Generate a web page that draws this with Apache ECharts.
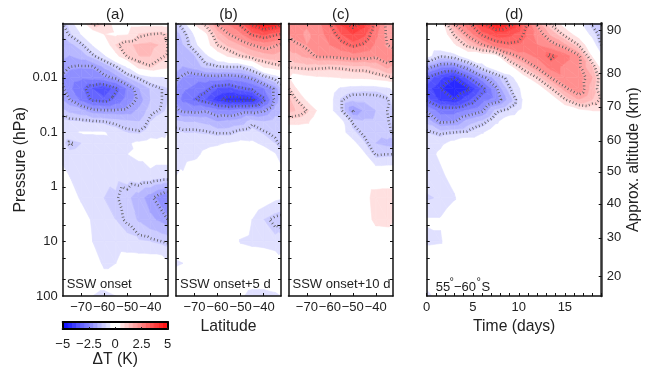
<!DOCTYPE html>
<html>
<head>
<meta charset="utf-8">
<style>
  html, body { margin: 0; padding: 0; background: #fff; }
  #chart { width: 651px; height: 369px; }
</style>
<script src="https://cdn.jsdelivr.net/npm/echarts@6/dist/echarts.min.js"></script>
</head>
<body>
<div id="chart"></div>
<script>
// grid of the fields: log10(pressure in hPa) rows, latitude / day columns
const logPressures = [-3, -2.8, -2.6, -2.4, -2.2, -2, -1.8, -1.6, -1.4, -1.2, -1, -0.8, -0.6, -0.2, 0.2, 0.6, 1, 1.4, 1.7, 2]
const latitudes = [-78, -75, -70, -65, -60, -55, -50, -45, -40, -35, -32.5]
const days = [0, 1.5, 3, 4.5, 6, 7.5, 9, 10.5, 12, 13.5, 15, 16.5, 18, 19]

// temperature anomaly in K, one row per pressure
const onsetA = [
  [-1.0, -0.8, 0.2, 1.1, 0.9, 0.2, 0.3, 0.3, 0.3, 0.3, 0.3],
  [-1.2, -0.95, -0.45, 0.1, 0.5, 0.4, 0.45, 0.9, 1.0, 1.05, 0.9],
  [-1.5, -1.4, -1.1, -0.45, 0.1, 0.9, 1.25, 1.35, 1.4, 1.25, 1.0],
  [-1.6, -1.7, -1.5, -1.1, -0.55, 0.3, 1.05, 1.3, 1.3, 1.05, 0.95],
  [-1.8, -2.0, -2.05, -2.05, -1.6, -1.05, -0.4, 0.7, 0.95, 0.7, 0.6],
  [-2.1, -2.3, -2.4, -2.3, -2.15, -1.9, -1.3, -0.95, -0.6, -0.55, -0.45],
  [-1.9, -2.4, -2.8, -3.3, -3.55, -3.1, -2.4, -1.7, -1.25, -1.0, -0.9],
  [-1.7, -2.0, -2.6, -3.1, -3.2, -2.8, -2.3, -1.9, -1.3, -1.0, -0.9],
  [-1.2, -1.4, -1.55, -1.9, -1.95, -1.95, -1.9, -1.6, -1.1, -0.95, -0.85],
  [-0.8, -0.85, -0.9, -0.95, -1.0, -1.1, -1.2, -1.3, -0.9, -0.7, -0.55],
  [-0.65, -0.6, -0.45, -0.45, -0.45, -0.7, -0.9, -0.95, -0.7, -0.6, -0.5],
  [-0.8, -1.05, -0.9, -0.7, -0.65, -0.6, -0.55, -0.4, -0.3, -0.35, -0.4],
  [-0.7, -0.8, -0.75, -0.7, -0.7, -0.6, -0.5, -0.45, -0.3, -0.3, -0.3],
  [-0.3, -0.5, -0.8, -0.85, -0.85, -0.8, -0.7, -0.6, -0.6, -0.7, -0.7],
  [-0.2, -0.3, -0.55, -0.8, -0.9, -0.95, -1.2, -1.5, -1.9, -2.3, -2.5],
  [-0.1, -0.2, -0.3, -0.55, -0.75, -0.9, -1.05, -1.35, -1.6, -1.8, -2.0],
  [-0.1, -0.1, -0.2, -0.5, -0.7, -0.75, -0.8, -0.85, -0.9, -1.0, -1.05],
  [-0.1, -0.1, -0.1, -0.2, -0.6, -0.5, -0.2, -0.2, -0.2, -0.2, -0.4],
  [0, 0, 0, -0.3, -0.3, -0.3, -0.1, 0, 0, 0, 0],
  [0, 0, 0, -0.5, -0.6, -0.5, -0.3, 0, 0, 0, 0],
]
const onsetB = [
  [-1.1, -0.75, 0.6, 1.2, 2.1, 2.6, 3.2, 4.2, 4.8, 4.5, 4.1],
  [-1.4, -1.2, -0.4, 0.4, 1.5, 2.0, 2.4, 3.1, 3.4, 3.1, 3.0],
  [-1.5, -1.3, -0.7, 0.2, 1.0, 1.4, 1.7, 2.0, 2.2, 2.05, 1.9],
  [-1.5, -1.5, -1.3, -0.6, 0.1, 0.6, 1.0, 1.3, 1.5, 1.6, 1.5],
  [-1.5, -1.7, -1.5, -1.15, -1.05, -1.0, -1.0, -0.5, 0.5, 0.8, 0.9],
  [-1.9, -2.1, -2.3, -2.2, -2.2, -2.3, -2.2, -1.9, -1.3, -0.8, -0.55],
  [-2.1, -2.4, -2.6, -2.85, -3.3, -3.4, -3.1, -2.9, -2.5, -1.9, -1.3],
  [-2.2, -2.6, -2.95, -3.3, -3.9, -4.2, -4.2, -4.1, -3.1, -1.9, -1.5],
  [-1.9, -2.1, -2.15, -2.05, -2.3, -2.4, -2.2, -2.2, -2.05, -1.5, -1.3],
  [-1.2, -1.3, -1.3, -1.4, -1.7, -1.6, -1.5, -1.1, -1.3, -1.1, -1.1],
  [-0.85, -0.9, -0.9, -0.95, -1.05, -1.05, -0.85, -0.75, -0.95, -1.1, -1.3],
  [-0.75, -0.6, -0.7, -0.6, -0.55, -0.45, -0.35, -0.4, -0.6, -0.9, -1.1],
  [-0.6, -0.65, -0.6, -0.4, -0.3, -0.2, -0.1, -0.1, -0.2, -0.45, -0.75],
  [-0.5, -0.45, -0.2, -0.1, 0, 0, 0, 0, 0, 0, -0.2],
  [0, 0, 0, 0, 0, 0, 0, 0, -0.2, -0.4, -0.45],
  [0, 0, 0, 0, 0, 0, -0.1, -0.5, -0.9, -1.1, -1.15],
  [0, 0, 0, 0, 0, -0.1, -0.55, -0.65, -0.7, -0.8, -0.75],
  [-0.6, -0.5, -0.1, 0, 0, 0, 0, 0, 0, -0.1, -0.3],
  [-0.1, 0, 0, 0, 0, 0, -0.1, -0.2, -0.2, -0.15, -0.1],
  [0, 0, 0, 0, 0, 0, -0.4, -0.7, -0.7, -0.6, -0.5],
]
const onsetC = [
  [2.2, 2.4, 2.2, 2.4, 3.0, 3.8, 4.2, 3.9, 2.8, 1.8, 1.6],
  [2.1, 2.3, 2.0, 2.3, 2.7, 3.3, 3.7, 3.4, 2.6, 1.9, 1.8],
  [1.95, 1.9, 2.1, 2.3, 2.5, 2.8, 3.1, 2.9, 2.4, 2.0, 1.9],
  [1.4, 1.6, 1.8, 2.1, 2.1, 2.2, 2.3, 2.2, 2.1, 2.4, 2.3],
  [1.05, 1.1, 1.15, 1.1, 1.05, 1.1, 1.2, 1.2, 1.4, 1.8, 1.6],
  [0.55, 0.1, 0.3, 0.4, 0.45, 0.5, 0.55, 0.6, 0.75, 0.9, 0.95],
  [1.05, 0.55, 0.1, 0, -0.2, -0.6, -0.75, -0.8, -0.8, -0.6, -0.4],
  [1.4, 1.05, 0.4, 0.1, -0.3, -0.95, -1.2, -1.2, -1.15, -1.05, -0.7],
  [1.4, 1.3, 1.0, 0.4, -0.3, -0.95, -2.05, -1.6, -1.3, -1.0, -0.9],
  [0.7, 0.7, 0.6, 0.1, 0, -0.35, -1.05, -1.2, -1.2, -1.05, -0.85],
  [0, 0, 0, 0, 0, -0.3, -0.8, -1.1, -1.2, -1.1, -0.95],
  [0, 0, 0, 0, 0, -0.2, -0.3, -0.85, -1.3, -1.4, -1.5],
  [0, 0, 0, 0, 0, 0, 0, -0.4, -1.05, -1.0, -1.0],
  [0, 0, 0, 0, 0, 0, 0, 0, 0, 0, 0],
  [0, 0, 0, 0, 0, 0, 0, 0.2, 0.8, 0.85, 0.85],
  [0, 0, 0, 0, 0, 0, 0, 0.1, 0.7, 0.75, 0.55],
  [0, 0, 0, 0, 0, 0, 0, 0, 0, 0, 0],
  [0, 0, 0, 0, 0, 0, 0, 0, 0, 0, 0],
  [0, 0, 0, 0, 0, 0, 0, 0, 0, 0, 0],
  [0, 0, 0, 0, 0, 0, 0, 0, 0, 0, 0],
]
const timeD = [
  [0.6, 0.2, 2.0, 2.9, 3.9, 4.7, 4.2, 3.2, 1.9, 0.9, 0.2, -0.3, -1.1, -1.3],
  [0.1, -0.1, 1.1, 2.2, 3.1, 3.5, 3.4, 3.0, 2.3, 1.6, 0.85, 0.2, -0.7, -1.2],
  [0, 0, 0.4, 1.2, 1.95, 2.7, 2.9, 2.8, 2.5, 2.2, 1.8, 1.0, -0.1, -1.05],
  [-0.2, -0.95, -0.7, 0, 0, 0.2, 1.7, 2.3, 2.6, 3.1, 2.7, 2.1, 0.4, -0.4],
  [-1.8, -2.35, -2.4, -1.7, -0.7, 0, 0.2, 1.3, 2.1, 2.7, 2.4, 2.1, 1.3, 0.2],
  [-3.0, -3.6, -4.0, -3.1, -2.2, -1.5, -0.75, 0.2, 1.0, 2.0, 2.4, 2.3, 1.7, 0.6],
  [-3.5, -4.0, -4.5, -4.1, -3.2, -2.1, -1.05, -0.3, 0, 0.95, 1.9, 2.35, 1.5, 0.5],
  [-3.1, -3.8, -4.0, -3.4, -2.7, -2.3, -1.5, -0.4, 0, 0, 0.95, 1.7, 1.3, 0.9],
  [-2.05, -2.7, -2.7, -2.4, -2.1, -1.15, -0.8, -0.3, 0, 0, 0, 0.3, 0.5, 0.5],
  [-1.4, -2.1, -2.05, -1.5, -1.2, -0.6, -0.1, 0, 0, 0, 0, 0, 0, 0],
  [-0.9, -1.1, -1.0, -0.9, -0.55, -0.1, 0, 0, 0, 0, 0, 0, 0, 0],
  [-0.8, -0.6, -0.3, 0, 0, 0, 0, 0, 0, 0, 0, 0, 0, 0],
  [-0.7, -0.4, 0, 0, 0, 0, 0, 0, 0, 0, 0, 0, 0, 0],
  [-0.7, -0.6, -0.3, 0, 0, 0, 0, 0, 0, 0, 0, 0, 0, 0],
  [-0.95, -0.85, -0.55, 0, 0, 0, 0, 0, 0, 0, 0, 0, 0, 0],
  [-0.45, -0.45, -0.1, 0, 0, 0, 0, 0, 0, 0, 0, 0, 0, 0],
  [-0.6, -0.55, -0.1, 0, 0, 0, 0, 0, 0, 0, 0, 0, 0, 0],
  [0, 0, 0, 0, 0, 0, 0, 0, 0, 0, 0, 0, 0, 0],
  [0, 0, 0, 0, 0, 0, 0, 0, 0, 0, 0, 0, 0, 0],
  [-0.8, 0, 0, 0, 0, 0, 0, 0, 0, 0, 0, 0, 0, 0],
]

// ticks and labels
const pressureTicks = [-2, -1, 0, 1, 2]
const pressureLabels = ['0.01', '0.1', '1', '10', '100']
const pressureSmallTicks = [-2.7, -2.3, -2, -1.7, -1.3, -1, -0.7, -0.3, 0, 0.3, 0.7, 1, 1.3, 1.7]
const latTicks = [-70, -60, -50, -40]
const dayTicks = [0, 5, 10, 15]
const daySmallTicks = [0, 1, 2, 3, 4, 5, 6, 7, 8, 9, 10, 11, 12, 13, 14, 15, 16, 17, 18, 19]
const altitudeKm = [90, 80, 70, 60, 50, 40, 30, 20]
const altitudeLogP = [-2.877, -2.09, -1.467, -0.844, -0.277, 0.309, 0.932, 1.646]
const colorbarTicks = [-5, -2.5, 0, 2.5, 5]

// colour steps and dotted contour levels
const bandEdges = [0.5, 0.9, 1.3, 1.7, 2.1, 2.5, 2.9, 3.3, 3.7, 4.1, 4.5, 4.9, 5.3]
const contourLevels = [-4, -3, -2, -1, 1, 2, 3, 4]

const FONT = '"Liberation Sans", Arial, sans-serif'
const TEXT = '#222'

function bandColor(lo, sign) {
  const t = Math.min(1, (lo + 0.1) / 5)
  const c = Math.round(255 * (1 - t))
  return sign > 0 ? `rgb(255,${c},${c})` : `rgb(${c},${c},255)`
}

// 每个色带用阈值裁剪三角形
function clipAt(poly, level, keepAbove) {
  const out = []
  for (let i = 0; i < poly.length; i++) {
    const a = poly[i]
    const b = poly[(i + 1) % poly.length]
    const aIn = keepAbove ? a[2] >= level : a[2] <= level
    const bIn = keepAbove ? b[2] >= level : b[2] <= level
    if (aIn) out.push(a)
    if (aIn !== bIn) {
      const f = (level - a[2]) / (b[2] - a[2])
      out.push([a[0] + f * (b[0] - a[0]), a[1] + f * (b[1] - a[1]), level])
    }
  }
  return out
}

function triangles(xs, ys, rows) {
  const tris = []
  for (let j = 0; j < ys.length - 1; j++) {
    for (let i = 0; i < xs.length - 1; i++) {
      const p = (a, b) => [xs[a], ys[b], rows[b][a]]
      tris.push([p(i, j), p(i + 1, j), p(i + 1, j + 1)])
      tris.push([p(i, j), p(i + 1, j + 1), p(i, j + 1)])
    }
  }
  return tris
}

function bandPolygons(tris) {
  const polys = []
  tris.forEach(tri => {
    for (let k = 0; k < bandEdges.length - 1; k++) {
      const lo = bandEdges[k]
      const hi = bandEdges[k + 1]
      const up = clipAt(clipAt(tri, lo, true), hi, false)
      if (up.length > 2) polys.push({ points: up, color: bandColor(lo, 1) })
      const dn = clipAt(clipAt(tri, -hi, true), -lo, false)
      if (dn.length > 2) polys.push({ points: dn, color: bandColor(lo, -1) })
    }
  })
  return polys
}

// contour segments joined into longer lines so the dashes run evenly
function contourLines(tris) {
  const lines = []
  contourLevels.forEach(level => {
    const segs = []
    tris.forEach(tri => {
      const pts = []
      for (let i = 0; i < 3; i++) {
        const a = tri[i]
        const b = tri[(i + 1) % 3]
        if ((a[2] >= level) !== (b[2] >= level)) {
          const f = (level - a[2]) / (b[2] - a[2])
          pts.push([a[0] + f * (b[0] - a[0]), a[1] + f * (b[1] - a[1])])
        }
      }
      if (pts.length === 2) segs.push(pts)
    })
    const key = p => p[0].toFixed(3) + '_' + p[1].toFixed(3)
    const used = segs.map(() => false)
    segs.forEach((seg, s) => {
      if (used[s]) return
      used[s] = true
      const line = [seg[0], seg[1]]
      let grown = true
      while (grown) {
        grown = false
        for (let n = 0; n < segs.length; n++) {
          if (used[n]) continue
          const endKey = key(line[line.length - 1])
          const startKey = key(line[0])
          if (key(segs[n][0]) === endKey) line.push(segs[n][1])
          else if (key(segs[n][1]) === endKey) line.push(segs[n][0])
          else if (key(segs[n][0]) === startKey) line.unshift(segs[n][1])
          else if (key(segs[n][1]) === startKey) line.unshift(segs[n][0])
          else continue
          used[n] = true
          grown = true
        }
      }
      lines.push(line)
    })
  })
  return lines
}

const panels = [
  { rows: onsetA, xs: latitudes, left: 62.7, width: 105, min: -78, max: -32.5, title: '(a)', note: 'SSW onset' },
  { rows: onsetB, xs: latitudes, left: 176, width: 105, min: -78, max: -32.5, title: '(b)', note: 'SSW onset+5 d' },
  { rows: onsetC, xs: latitudes, left: 288.5, width: 104.5, min: -78, max: -32.5, title: '(c)', note: 'SSW onset+10 d' },
  { rows: timeD, xs: days, left: 426.7, width: 175, min: 0, max: 19, title: '(d)', note: '' },
]

const frame = { show: true, onZero: false, lineStyle: { color: '#111', width: 1.5 } }
const tickStyle = { color: '#111', width: 1 }
const labelStyle = { fontFamily: FONT, fontSize: 13, color: TEXT }
const nameStyle = { fontFamily: FONT, fontSize: 15.7, color: TEXT }

const grids = []
const xAxes = []
const yAxes = []
const series = []
const graphics = []

panels.forEach((pn, i) => {
  grids.push({ left: pn.left, top: 23.3, width: pn.width, height: 272.7 })
  const isTime = pn.xs === days
  const ticks = isTime ? dayTicks : latTicks
  const tickAt = isTime ? daySmallTicks : latTicks
  // bottom and top axis
  xAxes.push({
    type: 'value', gridIndex: i, position: 'bottom', min: pn.min, max: pn.max, z: 5,
    axisLine: frame, splitLine: { show: false },
    axisTick: { show: true, inside: true, length: 3, lineStyle: tickStyle, customValues: tickAt },
    axisLabel: {
      ...labelStyle, margin: 5, hideOverlap: false, customValues: ticks,
      formatter: v => String(v).replace('-', '\u2212'),
    },
    name: i === 1 ? 'Latitude' : isTime ? 'Time (days)' : '',
    nameLocation: 'middle', nameGap: 18, nameTextStyle: nameStyle,
  })
  xAxes.push({
    type: 'value', gridIndex: i, position: 'top', min: pn.min, max: pn.max, z: 5,
    axisLine: frame, splitLine: { show: false }, axisLabel: { show: false },
    axisTick: { show: true, inside: true, length: 3, lineStyle: tickStyle, customValues: tickAt },
  })
  // left and right axis
  yAxes.push({
    type: 'value', gridIndex: i, position: 'left', inverse: true, min: -3, max: 2, z: 5,
    axisLine: frame, splitLine: { show: false },
    axisTick: { show: true, inside: true, length: 3, lineStyle: tickStyle, customValues: pressureSmallTicks },
    axisLabel: {
      ...labelStyle, show: i === 0, margin: 5, customValues: pressureTicks,
      formatter: v => pressureLabels[pressureTicks.indexOf(v)],
    },
    name: i === 0 ? 'Pressure (hPa)' : '',
    nameLocation: 'middle', nameGap: 33, nameTextStyle: nameStyle,
  })
  yAxes.push({
    type: 'value', gridIndex: i, position: 'right', inverse: true, min: -3, max: 2, z: 5,
    axisLine: isTime ? { show: true, onZero: false, lineStyle: { color: '#333', width: 2.5 } } : frame,
    splitLine: { show: false },
    axisTick: isTime
      ? { show: true, inside: true, length: 3, lineStyle: tickStyle, customValues: altitudeLogP }
      : { show: true, inside: true, length: 3, lineStyle: tickStyle, customValues: pressureSmallTicks },
    axisLabel: {
      ...labelStyle, show: isTime, margin: 5, customValues: altitudeLogP,
      formatter: v => String(altitudeKm[altitudeLogP.indexOf(v)]),
    },
    name: isTime ? 'Approx. altitude (km)' : '',
    nameLocation: 'middle', nameGap: 24, nameRotate: 90, nameTextStyle: nameStyle,
  })

  const tris = triangles(pn.xs, logPressures, pn.rows)
  const polys = bandPolygons(tris)
  const lines = contourLines(tris)

  series.push({
    type: 'custom', xAxisIndex: 2 * i, yAxisIndex: 2 * i, silent: true, animation: false, z: 2,
    progressive: 0, clip: true,
    data: polys.map((_, k) => [k]),
    renderItem: (params, api) => {
      const poly = polys[params.dataIndex]
      return {
        type: 'polygon',
        shape: { points: poly.points.map(p => api.coord([p[0], p[1]])) },
        style: { fill: poly.color, stroke: poly.color, lineWidth: 0.6 },
      }
    },
  })
  series.push({
    type: 'custom', xAxisIndex: 2 * i, yAxisIndex: 2 * i, silent: true, animation: false, z: 3,
    progressive: 0, clip: true,
    data: lines.map((_, k) => [k]),
    renderItem: (params, api) => {
      return {
        type: 'polyline',
        shape: { points: lines[params.dataIndex].map(p => api.coord(p)) },
        style: { fill: 'none', stroke: '#5a5a5a', lineWidth: 2.6, lineDash: [0.8, 2.6] },
      }
    },
  })

  graphics.push({
    type: 'text', x: pn.left + pn.width / 2, y: 15, z: 10,
    style: { text: pn.title, font: `15px ${FONT}`, fill: TEXT, textAlign: 'center', textVerticalAlign: 'middle' },
  })
  if (pn.note) {
    graphics.push({
      type: 'text', x: pn.left + 4, y: 284.5, z: 10,
      style: { text: pn.note, font: `13px ${FONT}`, fill: TEXT, textVerticalAlign: 'middle' },
    })
  }
})

// 55°-60°S note in pieces, the degree marks sit high
const noteParts = [
  ['55', 435.7, 287.5, 13],
  ['\u00b0', 449.5, 282, 11],
  ['\u221260', 454, 287.5, 13],
  ['\u00b0', 476.5, 282, 11],
  ['S', 481.5, 287.5, 13],
]
noteParts.forEach(part => {
  graphics.push({
    type: 'text', x: part[1], y: part[2], z: 10,
    style: { text: part[0], font: `${part[3]}px ${FONT}`, fill: TEXT, textVerticalAlign: 'middle' },
  })
})

// colorbar
const colorSteps = []
bandEdges.slice(0, -1).forEach((lo, k) => {
  const hi = Math.min(bandEdges[k + 1], 5)
  if (lo >= 5) return
  colorSteps.push([lo, hi, bandColor(lo, 1)])
  colorSteps.push([-hi, -lo, bandColor(lo, -1)])
})
grids.push({ left: 62.7, top: 322, width: 105, height: 12 })
const barIndex = panels.length
xAxes.push({
  type: 'value', gridIndex: barIndex, position: 'bottom', min: -5, max: 5, z: 5,
  axisLine: { show: true, onZero: false, lineStyle: { color: '#000', width: 2 } },
  splitLine: { show: false },
  axisTick: { show: true, inside: true, length: 2, lineStyle: tickStyle, customValues: colorbarTicks },
  axisLabel: {
    ...labelStyle, margin: 9, customValues: colorbarTicks,
    formatter: v => String(v).replace('-', '\u2212'),
  },
  name: '\u0394T (K)', nameLocation: 'middle', nameGap: 20, nameTextStyle: nameStyle,
})
xAxes.push({
  type: 'value', gridIndex: barIndex, position: 'top', min: -5, max: 5, z: 5,
  axisLine: { show: true, onZero: false, lineStyle: { color: '#000', width: 2 } },
  splitLine: { show: false }, axisTick: { show: false }, axisLabel: { show: false },
})
yAxes.push({
  type: 'value', gridIndex: barIndex, position: 'left', min: 0, max: 1, z: 5,
  axisLine: { show: true, onZero: false, lineStyle: { color: '#000', width: 2 } },
  splitLine: { show: false }, axisTick: { show: false }, axisLabel: { show: false },
})
yAxes.push({
  type: 'value', gridIndex: barIndex, position: 'right', min: 0, max: 1, z: 5,
  axisLine: { show: true, onZero: false, lineStyle: { color: '#000', width: 2 } },
  splitLine: { show: false }, axisTick: { show: false }, axisLabel: { show: false },
})
series.push({
  type: 'custom', xAxisIndex: 2 * barIndex, yAxisIndex: 2 * barIndex, silent: true, animation: false, z: 2,
  data: colorSteps.map((_, k) => [k]),
  renderItem: (params, api) => {
    const step = colorSteps[params.dataIndex]
    const a = api.coord([step[0], 1])
    const b = api.coord([step[1], 0])
    return {
      type: 'rect',
      shape: { x: a[0], y: a[1], width: b[0] - a[0], height: b[1] - a[1] },
      style: { fill: step[2], stroke: step[2], lineWidth: 0.5 },
    }
  },
})

const myChart = echarts.init(document.getElementById('chart'), null, { renderer: 'canvas' })
myChart.setOption({
  backgroundColor: '#fff',
  animation: false,
  grid: grids,
  xAxis: xAxes,
  yAxis: yAxes,
  series: series,
  graphic: graphics,
})
</script>
</body>
</html>
